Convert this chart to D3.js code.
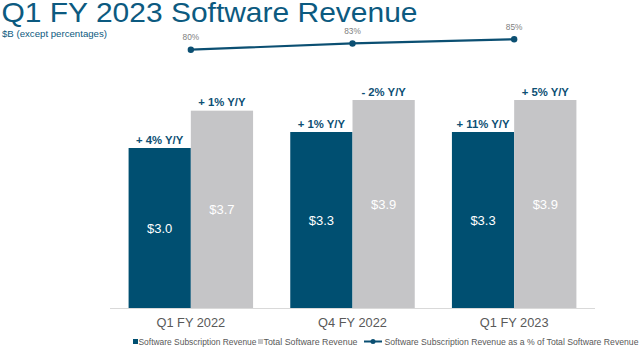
<!DOCTYPE html>
<html>
<head>
<meta charset="utf-8">
<script src="https://cdn.jsdelivr.net/npm/d3@7"></script>
<style>
  html, body { margin: 0; padding: 0; background: #fff; }
  svg { display: block; font-family: "Liberation Sans", Arial, sans-serif; }
</style>
</head>
<body>
<svg id="chart" width="640" height="347"></svg>
<script>
// Quarterly software revenue ($B) and subscription share (%)
const categories = ["Q1 FY 2022", "Q4 FY 2022", "Q1 FY 2023"];
const subscriptionRevenue = [3.0, 3.3, 3.3];
const totalRevenue = [3.7, 3.9, 3.9];
const subscriptionShare = [80, 83, 85];
const subscriptionGrowth = ["+ 4% Y/Y", "+ 1% Y/Y", "+ 11% Y/Y"];
const totalGrowth = ["+ 1% Y/Y", "- 2% Y/Y", "+ 5% Y/Y"];
const seriesNames = ["Software Subscription Revenue", "Total Software Revenue",
  "Software Subscription Revenue as a % of Total Software Revenue"];

const DARK = "#004f71", GREY = "#c5c5c7", TEXT = "#595959";
const svg = d3.select("#chart");

// Title block
svg.append("text").attr("x", 1.5).attr("y", 22)
  .attr("font-size", 27.5).attr("fill", "#0c5a80")
  .attr("textLength", 416).attr("lengthAdjust", "spacingAndGlyphs")
  .text("Q1 FY 2023 Software Revenue");
svg.append("text").attr("x", 2).attr("y", 36.5)
  .attr("font-size", 9.5).attr("fill", "#0c5a80")
  .attr("textLength", 105).attr("lengthAdjust", "spacingAndGlyphs")
  .text("$B (except percentages)");

// Scales
const x = d3.scaleBand().domain(categories).range([110, 595])
  .paddingInner(0.23).paddingOuter(0.115);
const sub = d3.scaleBand().domain([0, 1]).range([0, x.bandwidth()]);
const y = d3.scaleLinear().domain([0, 4.5]).range([308, 68]);
const yPct = d3.scaleLinear().domain([75, 90]).range([60.1, 28.9]);

// Baseline
svg.append("line").attr("x1", 110).attr("x2", 595)
  .attr("y1", 308.5).attr("y2", 308.5)
  .attr("stroke", "#d9d9d9").attr("stroke-width", 1);

const rows = categories.map((c, i) => ({
  cat: c,
  bars: [
    { k: 0, v: subscriptionRevenue[i], g: subscriptionGrowth[i], fill: DARK },
    { k: 1, v: totalRevenue[i], g: totalGrowth[i], fill: GREY }
  ]
}));

const groups = svg.selectAll("g.grp").data(rows).join("g")
  .attr("class", "grp").attr("transform", d => `translate(${x(d.cat)},0)`);

groups.selectAll("rect").data(d => d.bars).join("rect")
  .attr("x", d => sub(d.k)).attr("width", sub.bandwidth())
  .attr("y", d => y(d.v)).attr("height", d => y(0) - y(d.v))
  .attr("fill", d => d.fill);

// Values inside bars
groups.selectAll("text.val").data(d => d.bars).join("text")
  .attr("class", "val")
  .attr("x", d => sub(d.k) + sub.bandwidth() / 2)
  .attr("y", d => (y(d.v) + y(0)) / 2 + 4.7)
  .attr("text-anchor", "middle").attr("font-size", 13)
  .attr("fill", "#fff").text(d => "$" + d.v.toFixed(1));

// Year-over-year growth above bars
groups.selectAll("text.g").data(d => d.bars).join("text")
  .attr("class", "g")
  .attr("x", d => sub(d.k) + sub.bandwidth() / 2)
  .attr("y", d => y(d.v) - 4.5)
  .attr("text-anchor", "middle").attr("font-size", 11.3)
  .attr("font-weight", "bold").attr("fill", "#0d4f74").text(d => d.g);

// Category labels
svg.selectAll("text.cat").data(categories).join("text")
  .attr("class", "cat")
  .attr("x", d => x(d) + x.bandwidth() / 2).attr("y", 327)
  .attr("text-anchor", "middle").attr("font-size", 12.8)
  .attr("fill", TEXT).text(d => d);

// Subscription share line
const pts = categories.map((c, i) => ({ x: x(c) + x.bandwidth() / 2, v: subscriptionShare[i] }));
svg.append("path").datum(pts)
  .attr("d", d3.line().x(d => d.x).y(d => yPct(d.v)))
  .attr("fill", "none").attr("stroke", "#0b4f72").attr("stroke-width", 2.2);
svg.selectAll("circle.pt").data(pts).join("circle")
  .attr("class", "pt").attr("cx", d => d.x).attr("cy", d => yPct(d.v))
  .attr("r", 3.2).attr("fill", "#0b4f72");
svg.selectAll("text.pct").data(pts).join("text")
  .attr("class", "pct").attr("x", d => d.x).attr("y", d => yPct(d.v) - 9.5)
  .attr("text-anchor", "middle").attr("font-size", 8.3)
  .attr("fill", "#808080").text(d => d.v + "%");

// Legend
const lg = svg.append("g").attr("font-size", 8.6).attr("fill", TEXT);
const ly = 345;
lg.append("rect").attr("x", 133).attr("y", ly - 6).attr("width", 5).attr("height", 5).attr("fill", DARK);
lg.append("text").attr("x", 138.5).attr("y", ly)
  .attr("textLength", 118).attr("lengthAdjust", "spacingAndGlyphs").text(seriesNames[0]);
lg.append("rect").attr("x", 258).attr("y", ly - 6).attr("width", 5).attr("height", 5).attr("fill", GREY);
lg.append("text").attr("x", 263.5).attr("y", ly)
  .attr("textLength", 94).attr("lengthAdjust", "spacingAndGlyphs").text(seriesNames[1]);
lg.append("line").attr("x1", 364).attr("x2", 382).attr("y1", ly - 3.5).attr("y2", ly - 3.5)
  .attr("stroke", "#0b4f72").attr("stroke-width", 2);
lg.append("circle").attr("cx", 373).attr("cy", ly - 3.5).attr("r", 2.5).attr("fill", "#0b4f72");
lg.append("text").attr("x", 384.5).attr("y", ly)
  .attr("textLength", 254).attr("lengthAdjust", "spacingAndGlyphs").text(seriesNames[2]);
</script>
</body>
</html>
